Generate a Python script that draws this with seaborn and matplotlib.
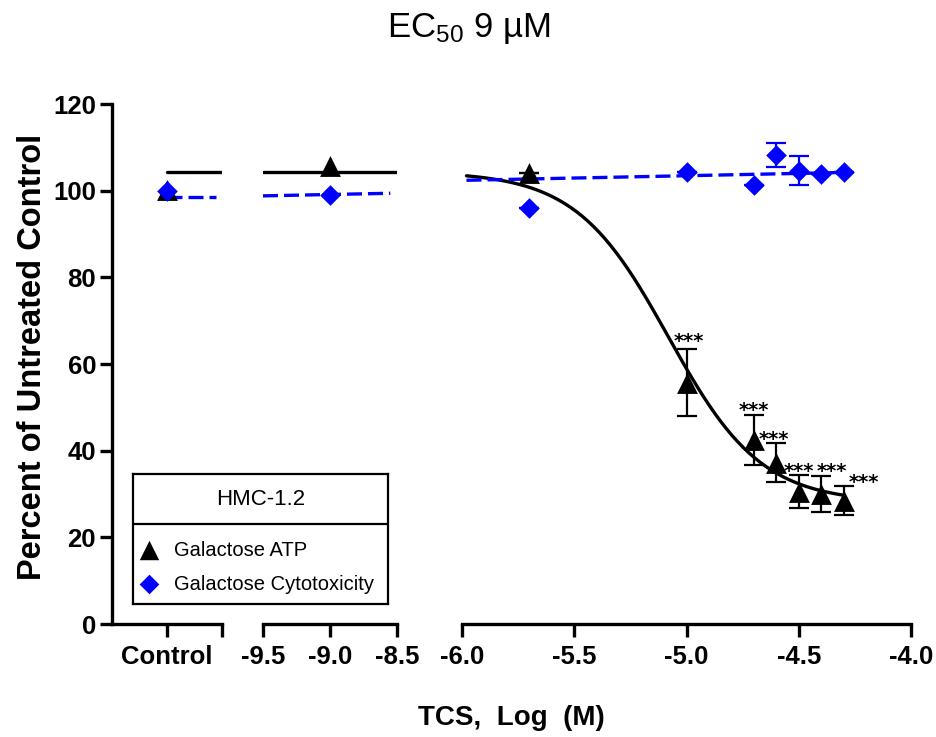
import numpy as np
import pandas as pd
import matplotlib
matplotlib.use("Agg")
import matplotlib.pyplot as plt
import seaborn as sns

# ---------------- data ----------------
control_label = "Control"
low_ticks = [-9.5, -9.0, -8.5]
high_ticks = [-6.0, -5.5, -5.0, -4.5, -4.0]

# Galactose ATP (black triangles)
atp_control = 100.2
atp_low_x = [-9.0]
atp_low = [105.6]
atp_x = [-5.7, -5.0, -4.7, -4.6, -4.5, -4.4, -4.3]
atp_mean = [104.0, 55.7, 42.5, 37.2, 30.5, 30.0, 28.5]
atp_sem = [0.0, 7.7, 5.7, 4.5, 3.8, 4.2, 3.4]

# Galactose Cytotoxicity (blue diamonds)
cyto_control = 100.0
cyto_low_x = [-9.0]
cyto_low = [99.0]
cyto_x = [-5.7, -5.0, -4.7, -4.6, -4.5, -4.4, -4.3]
cyto_mean = [96.0, 104.4, 101.3, 108.3, 104.6, 103.8, 104.4]
cyto_sem = [0.0, 0.0, 0.0, 2.8, 3.3, 0.0, 0.0]

# ATP 4-parameter logistic fit (EC50 ~ 9 uM)
fit_top = 104.4
fit_bottom = 28.0
fit_logec50 = -5.08
fit_hill = 2.1
fit_range = [-5.98, -4.3]

# Cytotoxicity fit line (per axis segment)
cyto_fit_ctrl = [98.6, 98.6]
cyto_fit_low_x = [-9.5, -8.55]
cyto_fit_low = [98.8, 99.4]
cyto_fit_high_x = [-5.98, -4.3]
cyto_fit_high = [102.4, 104.2]

# significance marks
star_text = "***"
star_x = [-4.99, -4.70, -4.61, -4.50, -4.352, -4.21]
star_y = [64.0, 48.1, 41.4, 34.0, 34.0, 31.3]

legend_title = "HMC-1.2"
series_names = ["Galactose ATP", "Galactose Cytotoxicity"]

# ---------------- style ----------------
sns.set_style("ticks")
plt.rcParams["font.family"] = ["Liberation Sans", "DejaVu Sans"]
plt.rcParams["mathtext.fontset"] = "custom"
plt.rcParams["mathtext.rm"] = "Liberation Sans"
plt.rcParams["mathtext.default"] = "regular"
for key in ("text.color", "axes.labelcolor", "xtick.color", "ytick.color", "axes.edgecolor"):
    plt.rcParams[key] = "black"

W, H = 937, 737
fig = plt.figure(figsize=(W / 100, H / 100), dpi=100)

def px_axes(x0, x1, y0=104, y1=624):
    return fig.add_axes([x0 / W, 1 - y1 / H, (x1 - x0) / W, (y1 - y0) / H])

ax1 = px_axes(112, 222)
ax2 = px_axes(263, 397)
ax3 = px_axes(462, 911)

LW = 2.4
BLUE = "#0000ff"
DASH = (4.5, 1.8)
tri_s = 15 ** 2
dia_s = 10.5 ** 2

def logistic(x):
    x = np.asarray(x, dtype=float)
    return fit_bottom + (fit_top - fit_bottom) / (1 + 10 ** ((x - fit_logec50) * fit_hill))

for ax in (ax1, ax2, ax3):
    ax.set_ylim(0, 120)
    ax.set_facecolor("none")
    for side in ("top", "right"):
        ax.spines[side].set_visible(False)
    ax.spines["bottom"].set_linewidth(LW)
    ax.spines["left"].set_linewidth(LW)
    ax.spines["bottom"].set_color("black")
    ax.spines["left"].set_color("black")
    ax.tick_params(axis="both", width=LW, length=9, direction="out", colors="black")
    ax.tick_params(axis="x", pad=6)
    ax.tick_params(axis="y", pad=2.5)

# segment 1: control
ax1.set_xlim(-0.5, 0.5)
sns.lineplot(x=[0.0, 0.5], y=[logistic(-12.0)] * 2, ax=ax1, color="black", linewidth=LW)
l1 = sns.lineplot(x=[0.0, 0.45], y=cyto_fit_ctrl, ax=ax1, color=BLUE, linewidth=LW)
l1.lines[-1].set_dashes(DASH)
sns.scatterplot(x=[0.0], y=[atp_control], ax=ax1, marker="^", s=tri_s, color="black",
                edgecolor="black", linewidth=0, zorder=5)
sns.scatterplot(x=[0.0], y=[cyto_control], ax=ax1, marker="D", s=dia_s, color=BLUE,
                edgecolor=BLUE, linewidth=0, zorder=6)
ax1.set_xticks([0.0, 0.5])
ax1.set_xticklabels([control_label, ""])
ax1.set_yticks(np.arange(0, 121, 20))

# segment 2: low concentrations
ax2.set_xlim(-9.5, -8.5)
xl = np.linspace(-9.5, -8.5, 20)
sns.lineplot(x=xl, y=logistic(xl), ax=ax2, color="black", linewidth=LW)
l2 = sns.lineplot(x=cyto_fit_low_x, y=cyto_fit_low, ax=ax2, color=BLUE, linewidth=LW)
l2.lines[-1].set_dashes(DASH)
sns.scatterplot(x=atp_low_x, y=atp_low, ax=ax2, marker="^", s=tri_s, color="black",
                edgecolor="black", linewidth=0, zorder=5)
sns.scatterplot(x=cyto_low_x, y=cyto_low, ax=ax2, marker="D", s=dia_s, color=BLUE,
                edgecolor=BLUE, linewidth=0, zorder=6)
ax2.set_xticks(low_ticks)
ax2.set_xticklabels([f"{t:.1f}" for t in low_ticks])

# segment 3: high concentrations
ax3.set_xlim(-6.0, -4.0)
xh = np.linspace(fit_range[0], fit_range[1], 200)
sns.lineplot(x=xh, y=logistic(xh), ax=ax3, color="black", linewidth=LW)
l3 = sns.lineplot(x=cyto_fit_high_x, y=cyto_fit_high, ax=ax3, color=BLUE, linewidth=LW)
l3.lines[-1].set_dashes(DASH)
ax3.errorbar(atp_x, atp_mean, yerr=atp_sem, fmt="none", ecolor="black", elinewidth=1.6,
             capsize=7, capthick=1.6, zorder=4)
ax3.errorbar(cyto_x, cyto_mean, yerr=cyto_sem, fmt="none", ecolor=BLUE, elinewidth=1.6,
             capsize=7, capthick=1.6, zorder=4)
sns.scatterplot(x=atp_x, y=atp_mean, ax=ax3, marker="^", s=tri_s, color="black",
                edgecolor="black", linewidth=0, zorder=5)
sns.scatterplot(x=cyto_x, y=cyto_mean, ax=ax3, marker="D", s=dia_s, color=BLUE,
                edgecolor=BLUE, linewidth=0, zorder=6)
ax3.set_xticks(high_ticks)
ax3.set_xticklabels([f"{t:.1f}" for t in high_ticks])
for sx, sy in zip(star_x, star_y):
    ax3.text(sx, sy, star_text, ha="center", va="baseline", fontsize=14,
             family="DejaVu Sans", fontweight="bold", color="black", zorder=7)

for ax in (ax2, ax3):
    ax.spines["left"].set_visible(False)
    ax.tick_params(axis="y", left=False, labelleft=False)

for ax in (ax1, ax2, ax3):
    for lab in ax.get_xticklabels() + ax.get_yticklabels():
        lab.set_fontsize(18.5)
        lab.set_fontweight("bold")
        lab.set_color("black")
    ax.set_xlabel("")
    ax.set_ylabel("")
    if ax.get_legend() is not None:
        ax.get_legend().remove()

# axis titles
fig.text(33 / W, 1 - 357 / H, "Percent of Untreated Control", rotation=90,
         ha="center", va="center", fontsize=23.5, fontweight="bold", color="black")
fig.text(511 / W, 1 - 718 / H, "TCS,  Log  (M)", ha="center", va="center",
         fontsize=20, fontweight="bold", color="black")
fig.text(469 / W, 1 - 28 / H, r"EC$_{50}$ 9 µM", ha="center", va="center",
         fontsize=25, color="black")

# legend box
lg = fig.add_axes([133 / W, 1 - 604 / H, 255 / W, 130 / H])
lg.set_xlim(0, 255)
lg.set_ylim(130, 0)
lg.set_xticks([])
lg.set_yticks([])
lg.set_facecolor("white")
for sp in lg.spines.values():
    sp.set_visible(True)
    sp.set_linewidth(1.6)
    sp.set_color("black")
lg.axhline(50, color="black", linewidth=1.6)
lg.text(127.5, 25, legend_title, ha="center", va="center", fontsize=16, color="black")
sns.scatterplot(x=[16], y=[76], ax=lg, marker="^", s=14 ** 2, color="black",
                edgecolor="black", linewidth=0)
sns.scatterplot(x=[16], y=[110], ax=lg, marker="D", s=10 ** 2, color=BLUE,
                edgecolor=BLUE, linewidth=0)
lg.text(41, 76, series_names[0], ha="left", va="center", fontsize=14.5, color="black")
lg.text(41, 110, series_names[1], ha="left", va="center", fontsize=14.5, color="black")
lg.set_xlabel("")
lg.set_ylabel("")

fig.savefig("out.png", dpi=100)
